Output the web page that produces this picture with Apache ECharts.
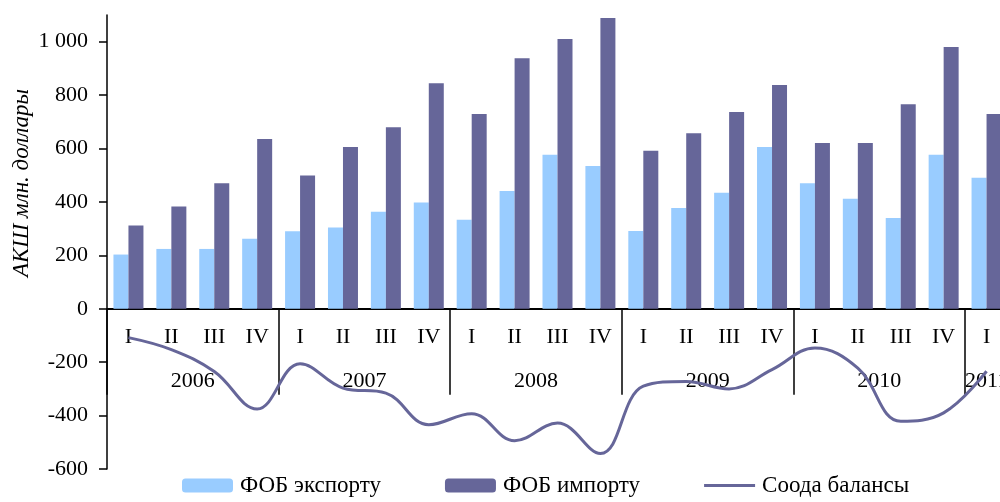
<!DOCTYPE html>
<html>
<head>
<meta charset="utf-8">
<script src="https://cdn.jsdelivr.net/npm/echarts@6/dist/echarts.min.js"></script>
<style>
  html, body { margin: 0; padding: 0; background: #fff; }
  #chart { width: 1000px; height: 502px; }
</style>
</head>
<body>
<div id="chart"></div>
<script>
// quarters 2006 Q1 .. 2011 Q1
const quarters = ['I', 'II', 'III', 'IV', 'I', 'II', 'III', 'IV', 'I', 'II', 'III', 'IV',
  'I', 'II', 'III', 'IV', 'I', 'II', 'III', 'IV', 'I'];
const years = ['2006', '2007', '2008', '2009', '2010', '2011'];

const exportFob = [203, 224, 224, 262, 290, 304, 363, 398, 333, 441, 577, 535,
  291, 377, 434, 606, 470, 412, 340, 577, 491];
const importFob = [312, 383, 470, 636, 499, 606, 680, 844, 729, 938, 1010, 1089,
  592, 657, 737, 838, 621, 621, 766, 980, 729];
const balance = [-108, -153, -235, -375, -206, -297, -316, -434, -393, -494, -428, -542,
  -290, -272, -300, -228, -147, -222, -421, -390, -234];

const yTicks = [-600, -400, -200, 0, 200, 400, 600, 800, 1000];
const yMin = -600;
const yMax = 1100;

const FONT = 'Liberation Serif, Times New Roman, serif';
const GRID_H = 454;
// distance from grid bottom up to the zero line
const zeroOffset = -GRID_H * (0 - yMin) / (yMax - yMin);

// year labels sit in the middle of their quarters, on a half-step axis
const yearSlots = new Array(quarters.length * 2 + 1).fill('');
years.forEach((y, i) => {
  const q0 = i * 4;
  const n = Math.min(4, quarters.length - q0);
  yearSlots[q0 * 2 + n] = y;
});

const fmt = v => {
  const s = String(Math.abs(v)).replace(/\B(?=(\d{3})+(?!\d))/g, ' ');
  return (v < 0 ? '-' : '') + s;
};

const chart = echarts.init(document.getElementById('chart'));
chart.setOption({
  animation: false,
  textStyle: { fontFamily: FONT },
  grid: { left: 107, top: 15, width: 901, height: GRID_H, containLabel: false, outerBoundsMode: 'none' },
  legend: {
    left: 182,
    top: 474,
    padding: 0,
    itemWidth: 51,
    itemHeight: 14,
    itemGap: 64,
    textStyle: { fontFamily: FONT, fontSize: 23, color: '#000', padding: [0, 0, 0, 2] },
    data: [
      'ФОБ экспорту',
      'ФОБ импорту',
      { name: 'Соода балансы', icon: 'path://M0,0L60,0L60,3.6L0,3.6Z' }
    ]
  },
  graphic: [{
    type: 'text',
    x: 22,
    y: 183,
    rotation: Math.PI / 2,
    style: {
      text: 'АКШ млн. доллары',
      font: 'italic 23px ' + FONT,
      fill: '#000',
      align: 'center',
      verticalAlign: 'middle'
    }
  }],
  xAxis: [
    {
      type: 'category',
      data: quarters,
      position: 'bottom',
      offset: zeroOffset,
      axisLine: { show: true, onZero: false, lineStyle: { color: '#000', width: 2 } },
      axisTick: { show: true, interval: 3, length: 86, lineStyle: { color: '#000', width: 1.5 } },
      axisLabel: { interval: 0, margin: 17, fontSize: 22, color: '#000', fontFamily: FONT }
    },
    {
      type: 'category',
      boundaryGap: false,
      position: 'bottom',
      offset: -107,
      data: yearSlots,
      axisLine: { show: false, onZero: false },
      axisTick: { show: false },
      axisLabel: { interval: 0, margin: 8, fontSize: 22, color: '#000', fontFamily: FONT }
    }
  ],
  yAxis: {
    type: 'value',
    min: yMin,
    max: yMax,
    interval: 200,
    splitLine: { show: false },
    axisLine: { show: true, lineStyle: { color: '#000', width: 1.5 } },
    axisTick: { show: true, length: 8, customValues: yTicks, lineStyle: { color: '#000', width: 1.5 } },
    axisLabel: { margin: 19, fontSize: 22, color: '#000', fontFamily: FONT, customValues: yTicks, formatter: fmt }
  },
  series: [
    {
      name: 'ФОБ экспорту',
      type: 'bar',
      data: exportFob,
      barWidth: 15,
      barGap: '0%',
      itemStyle: { color: '#99CCFF' }
    },
    {
      name: 'ФОБ импорту',
      type: 'bar',
      data: importFob,
      barWidth: 15,
      barGap: '0%',
      itemStyle: { color: '#666699' }
    },
    {
      name: 'Соода балансы',
      type: 'line',
      data: balance,
      smooth: 0.4,
      symbol: 'none',
      lineStyle: { color: '#666699', width: 3 },
      itemStyle: { color: '#666699' },
      z: 5
    }
  ]
});
</script>
</body>
</html>
